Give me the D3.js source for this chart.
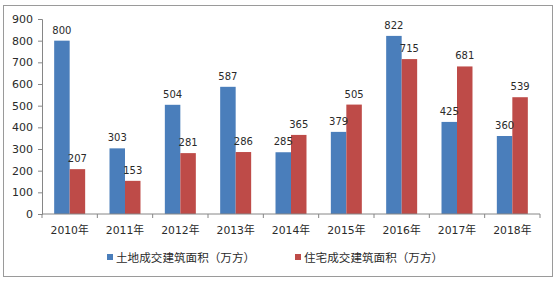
<!DOCTYPE html>
<html><head><meta charset="utf-8">
<script src="https://cdn.jsdelivr.net/npm/d3@7"></script>
<style>
html,body{margin:0;padding:0;background:#fff;}
svg{display:block;}
</style></head>
<body>
<svg id="c" width="558" height="281"></svg>
<script>
const categories = ["2010年","2011年","2012年","2013年","2014年","2015年","2016年","2017年","2018年"];
const landArea = [800,303,504,587,285,379,822,425,360];
const houseArea = [207,153,281,286,365,505,715,681,539];
const seriesNames = ["土地成交建筑面积（万方）","住宅成交建筑面积（万方）"];
const yTicks = [0,100,200,300,400,500,600,700,800,900];
const colors = ["#4A7EBB","#BE4B48"];

const svg = d3.select("#c");
const numFont = "DejaVu Sans, Verdana, sans-serif";
const mixFont = "'DejaVu Sans', 'Noto Sans CJK SC', sans-serif";
const cjkFont = "'Noto Sans CJK SC', sans-serif";

svg.append("rect").attr("x",3.5).attr("y",5.5).attr("width",549).attr("height",271)
  .attr("fill","#fff").attr("stroke","#9a9a9a").attr("stroke-width",1);

const x0 = d3.scaleBand().domain(categories).range([42,540]).paddingInner(0).paddingOuter(0);
const y = d3.scaleLinear().domain([0,900]).range([214,19]);
const innerPad = 0.22;
const x1 = d3.scaleBand().domain([0,1]).range([x0.bandwidth()*innerPad, x0.bandwidth()*(1-innerPad)]);

const series = [landArea, houseArea];
const g = svg.append("g");
categories.forEach((c,i)=>{
  series.forEach((vals,s)=>{
    g.append("rect")
      .attr("x", x0(c)+x1(s))
      .attr("y", y(vals[i]))
      .attr("width", x1.bandwidth())
      .attr("height", y(0)-y(vals[i]))
      .attr("fill", colors[s]);
  });
});

categories.forEach((c,i)=>{
  series.forEach((vals,s)=>{
    g.append("text")
      .attr("x", x0(c)+x1(s)+x1.bandwidth()/2)
      .attr("y", y(vals[i])-7)
      .attr("text-anchor","middle")
      .attr("font-family", numFont).attr("font-size",10).attr("fill","#2a2a2a")
      .text(vals[i]);
  });
});

const yAxis = d3.axisLeft(y).tickValues(yTicks).tickSize(4).tickPadding(5);
const ya = svg.append("g").attr("transform","translate(42,0)").call(yAxis);
ya.selectAll("path,line").attr("stroke","#868686");
ya.selectAll("text").attr("font-family",numFont).attr("font-size",11).attr("fill","#2a2a2a");

const xa = svg.append("g").attr("transform",`translate(0,${y(0)})`);
xa.append("line").attr("x1",42).attr("x2",540).attr("stroke","#868686");
const bounds = categories.map(c=>x0(c)).concat([x0(categories[categories.length-1])+x0.bandwidth()]);
bounds.forEach(b=>{
  xa.append("line").attr("x1",b).attr("x2",b).attr("y1",0).attr("y2",4).attr("stroke","#868686");
});
categories.forEach(c=>{
  xa.append("text").attr("x",x0(c)+x0.bandwidth()/2).attr("y",20)
    .attr("text-anchor","middle").attr("font-family",mixFont).attr("font-size",10.8).attr("fill","#2a2a2a")
    .text(c);
});

const legendX = [107, 295];
seriesNames.forEach((n,s)=>{
  svg.append("rect").attr("x",legendX[s]).attr("y",254).attr("width",6).attr("height",6).attr("fill",colors[s]);
  svg.append("text").attr("x",legendX[s]+9).attr("y",261.5)
    .attr("font-family",cjkFont).attr("font-size",11.6).attr("fill","#2a2a2a").text(n);
});
</script>
</body></html>
